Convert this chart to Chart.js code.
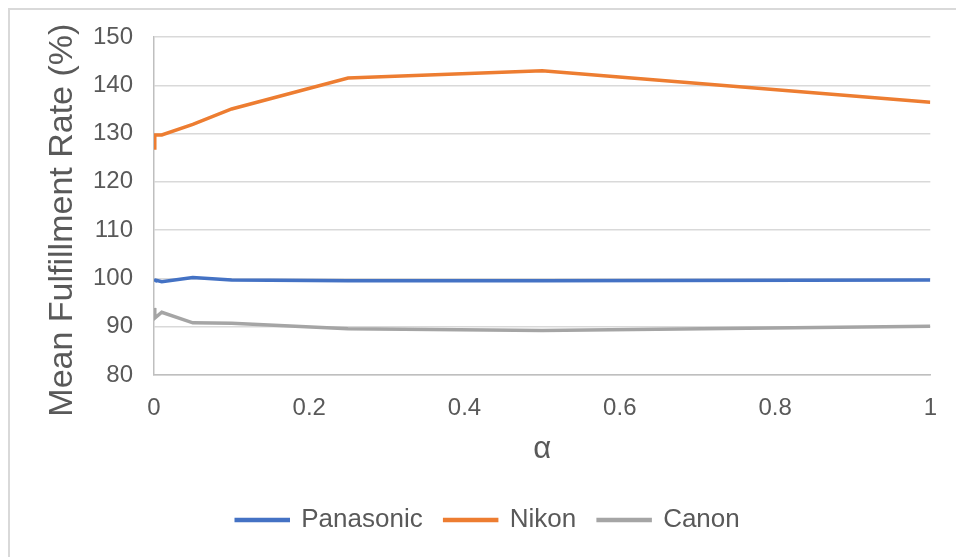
<!DOCTYPE html>
<html>
<head>
<meta charset="utf-8">
<script src="https://cdn.jsdelivr.net/npm/chart.js@4"></script>
<style>
  html, body { margin: 0; padding: 0; background: #fff; }
  #wrap { position: relative; width: 956px; height: 557px; }
  #frame { position: absolute; left: 8px; top: 8px; width: 960px; height: 560px;
           border-left: 2px solid #d9d9d9; border-top: 2px solid #d9d9d9; box-sizing: border-box; }
  canvas { position: absolute; left: 0; top: 0; }
</style>
</head>
<body>
<div id="wrap">
  <div id="frame"></div>
  <canvas id="myChart" width="956" height="557"></canvas>
</div>
<script>
const alphas    = [0, 0.001, 0.01, 0.05, 0.1, 0.25, 0.5, 1]
const panasonic = [99.8, 99.7, 99.3, 100.2, 99.7, 99.5, 99.5, 99.7]
const nikon     = [127.0, 129.7, 129.7, 131.9, 135.1, 141.5, 143.0, 136.5]
const canon     = [93.9, 91.8, 93.0, 90.8, 90.7, 89.6, 89.2, 90.1]
const xTicks    = [0, 0.2, 0.4, 0.6, 0.8, 1]

const textColor = '#595959'
const font = 'Arial, "Liberation Sans", sans-serif'

function series(label, values, color) {
    return {
        label: label,
        data: alphas.map((a, i) => ({ x: a, y: values[i] })),
        borderColor: color,
        backgroundColor: color,
        borderWidth: 3.5,
        pointRadius: 0,
        tension: 0
    }
}

const ctx = document.getElementById('myChart').getContext('2d');
const myChart = new Chart(ctx, {
    type: 'line',
    data: {
        datasets: [
            series('Panasonic', panasonic, '#4472C4'),
            series('Nikon', nikon, '#ED7D31'),
            series('Canon', canon, '#A5A5A5')
        ]
    },
    options: {
        responsive: false,
        animation: false,
        layout: { padding: { left: 42, right: 22, top: 37, bottom: 14 } },
        plugins: {
            tooltip: { enabled: false },
            legend: {
                position: 'bottom',
                labels: {
                    boxWidth: 52,
                    boxHeight: 1,
                    padding: 22,
                    color: textColor,
                    font: { family: font, size: 26 }
                }
            }
        },
        scales: {
            x: {
                type: 'linear',
                min: 0,
                max: 1,
                afterBuildTicks: function(scale) {
                    scale.ticks = xTicks.map(v => ({ value: v }))
                },
                afterFit: function(scale) { scale.height = 110 },
                grid: { display: false, drawTicks: false },
                border: { color: '#bfbfbf', width: 1.5 },
                ticks: {
                    padding: 19,
                    color: textColor,
                    font: { family: font, size: 24 },
                    callback: v => String(v)
                },
                title: {
                    display: true,
                    text: 'α',
                    color: textColor,
                    font: { family: font, size: 31 },
                    padding: { top: 6, bottom: 17 }
                }
            },
            y: {
                min: 80,
                max: 150,
                afterFit: function(scale) { scale.width = 112 },
                grid: { color: '#d9d9d9', lineWidth: 1.5, drawTicks: false },
                border: { color: '#bfbfbf', width: 1.5 },
                ticks: {
                    stepSize: 10,
                    padding: 21,
                    color: textColor,
                    font: { family: font, size: 24 }
                },
                title: {
                    display: true,
                    text: 'Mean Fulfillment Rate (%)   ',
                    color: textColor,
                    font: { family: font, size: 34 },
                    padding: { top: 0, bottom: 0 }
                }
            }
        }
    }
});
</script>
</body>
</html>
